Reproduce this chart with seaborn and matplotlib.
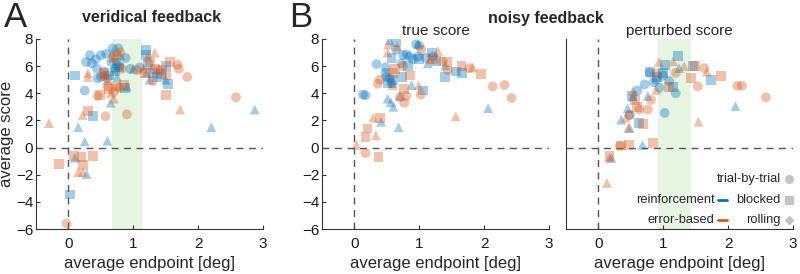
import numpy as np
import pandas as pd
import matplotlib
matplotlib.use("Agg")
import matplotlib.pyplot as plt
import seaborn as sns

sns.set_style("ticks")
plt.rcParams.update({
    "font.family": ["Liberation Sans", "DejaVu Sans"],
    "font.size": 11,
    "axes.spines.top": False,
    "axes.spines.right": False,
    "xtick.direction": "in",
    "ytick.direction": "in",
    "axes.edgecolor": "#333333",
    "xtick.color": "#333333",
    "ytick.color": "#333333",
    "xtick.labelcolor": "#1a1a1a",
    "ytick.labelcolor": "#1a1a1a",
})

BLUE = "#0072BD"
ORANGE = "#D95319"
SCHEDULES = ["trial-by-trial", "blocked", "rolling"]
MARKERS = {"trial-by-trial": "o", "blocked": "s", "rolling": "^"}

# ── data: (average endpoint [deg], average score) ────────────────────────────

# panel A: veridical feedback
A_rl_trial = [(0.27, 6.3), (0.33, 6.8), (0.42, 6.5), (0.5, 6.8), (0.58, 6.9), (0.68, 7.3),
              (0.77, 7.3), (0.45, 5.1), (0.5, 5.2), (0.55, 5.6), (0.6, 5.1), (0.44, 5.8),
              (0.25, 4.2), (0.78, 6.0), (0.88, 6.6), (0.72, 5.8), (0.66, 6.3), (0.36, 6.2),
              (1.1, 5.9), (0.95, 5.8)]
A_rl_block = [(0.1, 5.3), (0.38, 2.3), (1.2, 7.2), (1.2, 6.8), (1.22, 6.1), (1.3, 5.5),
              (1.42, 5.4), (1.5, 6.0), (1.53, 4.7), (1.36, 5.2), (0.72, 5.6), (0.74, 6.2),
              (0.03, -3.45), (0.87, 4.4), (0.62, 5.3), (0.78, 5.9)]
A_rl_roll = [(0.6, 0.5), (0.25, 0.45), (0.15, 1.5), (0.1, -0.75), (0.28, -1.95), (2.2, 1.5),
             (2.87, 2.8), (1.0, 5.8), (1.2, 5.5), (1.25, 5.0), (1.5, 5.0), (0.9, 4.5),
             (0.65, 3.3), (0.75, 5.2), (0.68, 7.0), (0.8, 6.8)]
A_eb_trial = [(0.57, 2.3), (0.9, 2.45), (0.45, 3.8), (1.68, 6.1), (1.7, 5.8), (1.83, 5.2),
              (2.58, 3.7), (-0.03, -5.6), (0.6, 4.5), (0.7, 4.1), (0.78, 4.4), (0.82, 5.8),
              (0.55, 5.3), (1.05, 5.7), (1.3, 4.9), (1.38, 5.7), (0.8, 7.0)]
A_eb_block = [(-0.15, -1.2), (0.08, -0.6), (0.2, -0.7), (0.38, -0.65), (0.22, -1.3), (0.3, 2.7),
              (0.48, 3.9), (0.62, 4.3), (0.73, 4.5), (1.18, 5.5), (1.25, 6.3), (1.33, 5.8),
              (1.45, 5.7), (1.57, 6.3), (1.5, 5.3), (1.5, 3.9), (0.7, 6.6), (0.55, 5.5),
              (0.85, 4.6)]
A_eb_roll = [(-0.3, 1.8), (0.22, 2.4), (0.15, -1.8), (0.22, -1.8), (0.3, 5.2), (0.3, 5.5),
             (1.33, 7.0), (1.72, 2.8), (1.22, 6.7), (0.7, 6.7), (0.75, 7.1), (0.65, 4.0),
             (0.7, 3.6), (0.55, 5.4), (0.6, 5.0), (1.15, 5.8)]

# panel B, left: noisy feedback, true score
T_rl_trial = [(0.34, 6.15), (0.48, 5.9), (0.48, 5.5), (0.49, 5.2), (0.13, 3.9), (0.17, 3.85),
              (0.64, 7.2), (0.75, 6.8), (0.8, 6.85), (0.85, 6.7), (0.9, 6.5), (0.98, 6.7),
              (0.95, 7.6), (1.0, 7.5), (0.57, 4.75), (0.54, 5.1), (1.21, 6.7), (1.1, 6.6),
              (0.72, 6.2)]
T_rl_block = [(0.64, 7.8), (0.51, 4.75), (0.6, 5.0), (0.74, 5.2), (1.06, 4.2), (1.19, 7.0),
              (1.26, 6.35), (1.4, 5.2), (1.57, 5.6), (1.66, 5.5), (1.0, 6.5), (0.83, 6.0),
              (0.57, 6.6)]
T_rl_roll = [(0.54, 7.9), (0.51, 3.6), (0.56, 3.35), (0.6, 3.0), (0.68, 1.5), (0.41, 1.9),
             (0.7, 3.8), (0.88, 4.6), (2.06, 2.9), (1.4, 6.05), (1.13, 6.2), (0.98, 7.65),
             (0.59, 4.75)]
T_eb_trial = [(0.36, 4.7), (0.39, 5.0), (0.77, 3.3), (0.7, 3.7), (0.8, 3.8), (1.02, 3.9),
              (1.44, 5.7), (2.13, 4.5), (2.31, 4.6), (2.42, 3.65), (0.17, -0.4), (1.03, 7.2),
              (0.75, 6.0), (1.36, 6.35), (1.77, 5.85)]
T_eb_block = [(0.17, 0.8), (0.2, 1.4), (0.39, 2.2), (0.37, -0.7), (0.76, 4.3), (0.85, 5.3),
              (0.6, 5.5), (1.43, 6.3), (1.65, 6.0), (1.95, 5.4), (0.62, 5.8), (1.21, 6.5)]
T_eb_roll = [(0.03, 0.2), (0.29, 2.2), (0.33, 0.9), (1.56, 2.3), (0.99, 4.6), (0.51, 7.0),
             (0.66, 7.45), (1.29, 7.1), (1.82, 5.9), (0.52, 7.6), (0.59, 4.6), (1.16, 6.5)]

# panel B, right: noisy feedback, perturbed score
P_rl_trial = [(0.79, 5.5), (0.89, 5.0), (0.94, 4.4), (0.99, 5.3), (1.19, 4.0), (1.02, 2.55),
              (0.48, 2.4), (1.09, 4.9), (0.71, 4.65), (0.6, 4.2), (0.85, 4.8)]
P_rl_block = [(1.22, 6.75), (1.46, 6.0), (1.74, 4.95), (0.79, 5.55), (0.52, 3.8), (0.62, 1.8),
              (1.02, 6.1), (1.0, 5.5), (1.15, 4.45), (0.9, 5.2)]
P_rl_roll = [(0.2, -0.75), (0.48, 1.45), (0.68, 0.2), (2.11, 3.05), (1.24, 5.85), (0.53, 3.75),
             (0.76, 3.8), (0.35, 2.05), (0.45, 2.9)]
P_eb_trial = [(1.63, 5.85), (1.53, 4.5), (2.14, 4.55), (2.21, 4.55), (2.58, 3.7), (0.48, 2.4),
              (0.63, 2.8), (0.81, 3.5), (1.19, 5.5), (0.89, 5.45), (0.76, 2.8), (0.33, 0.1)]
P_eb_block = [(0.17, -0.6), (0.47, 0.2), (0.84, 0.35), (1.89, 5.25), (1.49, 6.0), (1.42, 5.1),
              (0.68, 1.75), (0.56, 3.5), (1.09, 4.45), (0.35, 0.15), (0.6, 3.0)]
P_eb_roll = [(0.13, -2.6), (0.17, -0.75), (0.46, 1.45), (1.54, 1.9), (1.15, 6.35), (0.93, 6.3),
             (1.32, 6.0), (1.67, 5.6), (0.53, 4.15), (0.89, 4.25), (0.42, 2.2)]

X_TICKS = [0, 1, 2, 3]
Y_TICKS = [-6, -4, -2, 0, 2, 4, 6, 8]
A_SPAN = (0.67, 1.14)
P_SPAN = (0.91, 1.42)


def _frame(groups):
    rows = []
    for learning, schedule, pts in groups:
        for x, y in pts:
            rows.append({"endpoint": x, "score": y, "learning": learning, "schedule": schedule})
    return pd.DataFrame(rows)


df_A = _frame([
    ("reinforcement", "trial-by-trial", A_rl_trial), ("reinforcement", "blocked", A_rl_block),
    ("reinforcement", "rolling", A_rl_roll), ("error-based", "trial-by-trial", A_eb_trial),
    ("error-based", "blocked", A_eb_block), ("error-based", "rolling", A_eb_roll)])
df_T = _frame([
    ("reinforcement", "trial-by-trial", T_rl_trial), ("reinforcement", "blocked", T_rl_block),
    ("reinforcement", "rolling", T_rl_roll), ("error-based", "trial-by-trial", T_eb_trial),
    ("error-based", "blocked", T_eb_block), ("error-based", "rolling", T_eb_roll)])
df_P = _frame([
    ("reinforcement", "trial-by-trial", P_rl_trial), ("reinforcement", "blocked", P_rl_block),
    ("reinforcement", "rolling", P_rl_roll), ("error-based", "trial-by-trial", P_eb_trial),
    ("error-based", "blocked", P_eb_block), ("error-based", "rolling", P_eb_roll)])


def _panel(ax, df, span=None, ylabels=True):
    if span is not None:
        ax.axvspan(*span, color="#e3f4df", alpha=0.9, lw=0, zorder=0)
    ax.axhline(0, color="#555555", lw=1, ls=(0, (5, 4)), zorder=1)
    ax.axvline(0, color="#555555", lw=1, ls=(0, (5, 4)), zorder=1)
    sns.scatterplot(data=df, x="endpoint", y="score", hue="learning", style="schedule",
                    palette={"reinforcement": BLUE, "error-based": ORANGE},
                    markers=MARKERS, style_order=SCHEDULES, s=50, alpha=0.36,
                    edgecolor="none", legend=False, ax=ax, zorder=2)
    ax.set_xlim(-0.5, 3)
    ax.set_ylim(-6, 8)
    ax.set_xticks(X_TICKS)
    ax.set_yticks(Y_TICKS)
    ax.tick_params(labelsize=11, length=3, width=0.8)
    ax.tick_params(axis="x", pad=6)
    ax.tick_params(axis="y", pad=2)
    if not ylabels:
        ax.set_yticklabels([])
        ax.tick_params(axis="y", length=0)
    ax.set_xlabel("average endpoint [deg]", fontsize=12, labelpad=3)
    ax.set_ylabel("")


fig = plt.figure(figsize=(8, 2.74), dpi=100)
axA = fig.add_axes([0.045, 0.164, 0.284, 0.694])
axT = fig.add_axes([0.4025, 0.164, 0.284, 0.694])
axP = fig.add_axes([0.7075, 0.164, 0.284, 0.694])

_panel(axA, df_A, A_SPAN)
_panel(axT, df_T)
_panel(axP, df_P, P_SPAN, ylabels=False)

axA.set_ylabel("average score", fontsize=12, labelpad=1)
axT.set_title("true score", fontsize=11, pad=3)
axP.set_title("perturbed score", fontsize=11, pad=3)

fig.text(0.005, 0.995, "A", fontsize=25, va="top", ha="left")
fig.text(0.362, 0.995, "B", fontsize=25, va="top", ha="left")
fig.text(0.19, 1 - 18 / 274, "veridical feedback", fontsize=11.5, fontweight="bold",
         ha="center", va="center")
fig.text(0.682, 1 - 18 / 274, "noisy feedback", fontsize=11.5, fontweight="bold",
         ha="center", va="center")

# custom legend (bottom right)
GRAY = "#c4c4c4"
leg_fs = 9.3
fig.text(0.976, 1 - 179 / 274, "trial-by-trial", fontsize=leg_fs, ha="right", va="center")
fig.text(0.976, 1 - 200 / 274, "blocked", fontsize=leg_fs, ha="right", va="center")
fig.text(0.976, 1 - 220 / 274, "rolling", fontsize=leg_fs, ha="right", va="center")
fig.text(0.893, 1 - 200 / 274, "reinforcement", fontsize=leg_fs, ha="right", va="center")
fig.text(0.893, 1 - 220 / 274, "error-based", fontsize=leg_fs, ha="right", va="center")
for y, m in zip([179, 200, 220], ["o", "s", "D"]):
    fig.add_artist(plt.Line2D([0.986], [1 - y / 274], marker=m, color=GRAY,
                              markersize=5.5 if m != "D" else 4.5, lw=0))
for y, c in zip([200, 220], [BLUE, ORANGE]):
    fig.add_artist(plt.Line2D([0.898, 0.909], [1 - y / 274, 1 - y / 274], color=c, lw=2))

fig.savefig("out.png", dpi=100)
